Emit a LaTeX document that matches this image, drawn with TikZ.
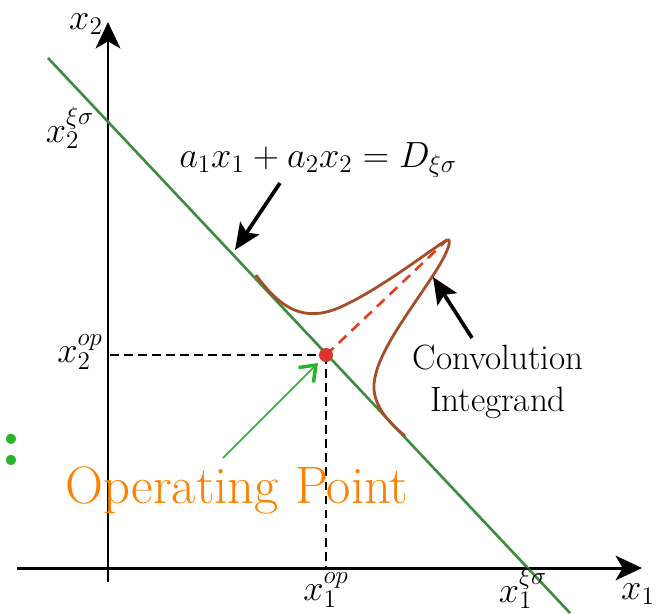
\documentclass[tikz,border=0pt]{standalone}
\usetikzlibrary{positioning,arrows.meta}
\definecolor{lineGreen}{RGB}{62,140,62}
\definecolor{convBrown}{RGB}{165,78,42}
\definecolor{opRed}{RGB}{220,52,40}
\definecolor{opOrange}{RGB}{255,128,0}
\definecolor{ptrGreen}{RGB}{40,180,40}

\begin{document}
\begin{tikzpicture}[x=0.02cm, y=-0.02cm,
  axis/.style={line width=1.7pt, -{Stealth[length=15pt, width=14pt, inset=4pt]}},
  guide/.style={line width=1.5pt, dash pattern=on 5pt off 3pt},
  pointer/.style={line width=2.1pt, -{Stealth[length=15pt, width=13pt, inset=3pt]}},
  lbl/.style={font=\fontsize{20}{24}\selectfont},
  txt/.style={font=\fontsize{20}{24}\selectfont, align=center}
]
\useasboundingbox (0,0) rectangle (659,613);

% axes
\coordinate (xstart) at (17,568);
\coordinate (xend) at (642,568);
\coordinate (ystart) at (108,582);
\coordinate (yend) at (108,22);
\draw[axis] (xstart) -- (xend);
\draw[axis] (ystart) -- (yend);

% constraint line
\coordinate (lineA) at (48,58);
\coordinate (lineB) at (570,613);
\draw[lineGreen, line width=1.5pt] (lineA) -- (lineB);

% operating point and its projections
\coordinate (op) at (326,355);
\coordinate (opy) at (110,355);
\coordinate (opx) at (326,568);
\draw[guide] (opy) -- (op);
\draw[guide] (op) -- (opx);

% convolution integrand
\coordinate (tip) at (447,240);
\draw[opRed!85!orange, line width=1.5pt, dash pattern=on 6pt off 4pt] (op) -- (tip);
\draw[convBrown, line width=1.6pt] (256,275) .. controls (285,315) and (310,322) .. (345,305)
  .. controls (385,286) and (440,243) .. (tip)
  .. controls (452,238) and (450,250) .. (432,277)
  .. controls (405,318) and (372,360) .. (374,390)
  .. controls (376,410) and (392,425) .. (405,436);
\fill[opRed] (op) circle (7);

% labels
\node[lbl] (x2) at (86,24) {$x_2$};
\node[lbl] (x2xs) at (70,128) {$x_2^{\xi\sigma}$};
\node[lbl] (x2op) at (80,352) {$x_2^{op}$};
\node[lbl] (x1op) at (326,590) {$x_1^{op}$};
\node[lbl] (x1xs) at (523,588) {$x_1^{\xi\sigma}$};
\node[lbl] (x1) at (638,594) {$x_1$};

\node[font=\fontsize{22}{26}\selectfont] (eq) at (318,160) {$a_1x_1 + a_2x_2 = D_{\xi\sigma}$};
\coordinate (eqtail) at (280,183);
\coordinate (eqtip) at (235,250);
\draw[pointer] (eqtail) -- (eqtip);

\node[txt] (conv) at (498,382) {Convolution\\Integrand};
\coordinate (convtail) at (472,338);
\coordinate (convtip) at (433,277);
\draw[pointer] (convtail) -- (convtip);

\node[opOrange, font=\fontsize{30}{34}\selectfont] (opname) at (237,490) {Operating Point};
\coordinate (optail) at (223,458);
\coordinate (optip) at (318,363);
\draw[ptrGreen, line width=0.9pt, -{Straight Barb[length=8pt, width=12pt, line width=2pt]}] (optail) -- (optip);

\node[ptrGreen, font=\fontsize{40}{44}\bfseries\selectfont] (colon) at (11,450) {:};
\end{tikzpicture}
\end{document}
